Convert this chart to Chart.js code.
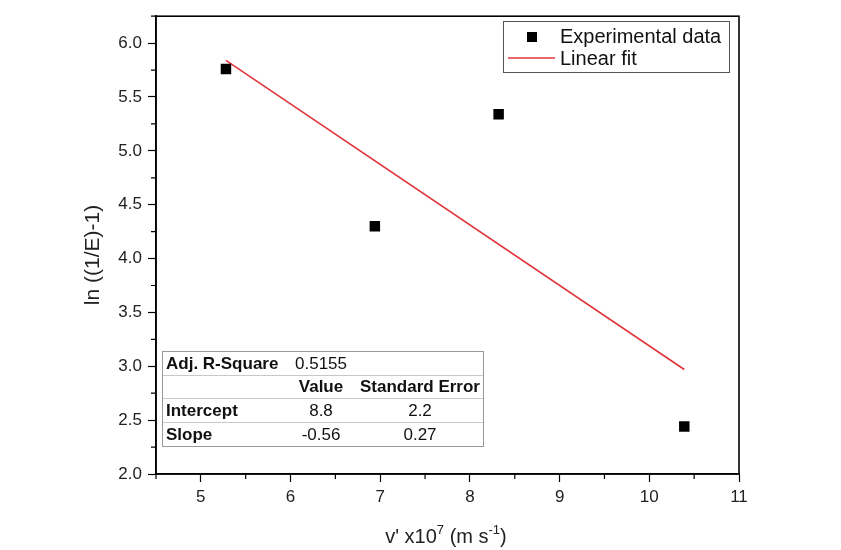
<!DOCTYPE html>
<html lang="en">
<head>
  <meta charset="UTF-8">
  <title>ln((1/E)-1) vs v'</title>
  <script src="https://cdn.jsdelivr.net/npm/chart.js"></script>
  <style>
    html, body { margin: 0; padding: 0; background: #fff; }
    #wrap { width: 841px; height: 550px; }
  </style>
</head>
<body>
  <div id="wrap"><canvas id="fitChart" width="841" height="550"></canvas></div>

  <script>
    // experimental points
    const velocity = [5.28, 6.94, 8.32, 10.39];
    const lnValues = [5.76, 4.30, 5.34, 2.44];

    // linear fit line endpoints (as drawn)
    const fitX = [5.28, 10.39];
    const fitY = [5.84, 2.97];

    const xMajorTicks = [5, 6, 7, 8, 9, 10, 11];
    const xMinorTicks = [4.5, 5.5, 6.5, 7.5, 8.5, 9.5, 10.5];
    const yMajorTicks = [2.0, 2.5, 3.0, 3.5, 4.0, 4.5, 5.0, 5.5, 6.0];
    const yMinorTicks = [2.25, 2.75, 3.25, 3.75, 4.25, 4.75, 5.25, 5.75, 6.25];

    const statsHeader = ['', 'Value', 'Standard Error'];
    const adjRSquare = '0.5155';
    const statsRows = [
      ['Intercept', '8.8', '2.2'],
      ['Slope', '-0.56', '0.27']
    ];

    const FONT = '"Liberation Sans", Arial, sans-serif';

    const framePlugin = {
      id: 'framePlugin',
      afterDraw(chart) {
        const ctx = chart.ctx;
        const a = chart.chartArea;
        const xs = chart.scales.x, ys = chart.scales.y;
        ctx.save();

        // minor ticks
        ctx.strokeStyle = '#000';
        ctx.lineWidth = 1.2;
        ctx.beginPath();
        xMinorTicks.forEach(v => {
          const px = xs.getPixelForValue(v);
          ctx.moveTo(px, a.bottom); ctx.lineTo(px, a.bottom + 5);
        });
        yMinorTicks.forEach(v => {
          const py = ys.getPixelForValue(v);
          ctx.moveTo(a.left, py); ctx.lineTo(a.left - 5, py);
        });
        ctx.stroke();

        // frame
        ctx.lineWidth = 1.6;
        ctx.strokeRect(a.left, a.top, a.right - a.left, a.bottom - a.top);

        // axis titles
        ctx.fillStyle = '#222';
        ctx.textBaseline = 'alphabetic';
        ctx.save();
        ctx.translate(99, 255);
        ctx.rotate(-Math.PI / 2);
        ctx.font = '21px ' + FONT;
        ctx.textAlign = 'center';
        ctx.fillText('ln ((1/E)-1)', 0, 0);
        ctx.restore();

        // x title with superscripts
        const parts = [
          ['v\' x10', false], ['7', true], [' (m s', false], ['-1', true], [')', false]
        ];
        const big = '20px ' + FONT, small = '13px ' + FONT;
        let total = 0;
        parts.forEach(p => { ctx.font = p[1] ? small : big; total += ctx.measureText(p[0]).width; });
        let cx = 446 - total / 2;
        const base = 543;
        ctx.textAlign = 'left';
        parts.forEach(p => {
          ctx.font = p[1] ? small : big;
          ctx.fillText(p[0], cx, p[1] ? base - 9 : base);
          cx += ctx.measureText(p[0]).width;
        });

        // legend
        ctx.strokeStyle = '#555';
        ctx.lineWidth = 1;
        ctx.strokeRect(503.5, 21.5, 226, 51);
        ctx.fillStyle = '#000';
        ctx.fillRect(527, 32, 10, 10);
        ctx.strokeStyle = '#e0353a';
        ctx.lineWidth = 1.6;
        ctx.beginPath(); ctx.moveTo(508, 58); ctx.lineTo(555, 58); ctx.stroke();
        ctx.fillStyle = '#111';
        ctx.font = '20px ' + FONT;
        ctx.textBaseline = 'middle';
        ctx.fillText('Experimental data', 560, 37);
        ctx.fillText('Linear fit', 560, 59);

        // statistics table
        const tx = 162, tw = 321, rowTops = [351, 375, 398, 422, 446];
        const colCenters = [null, 321, 420];
        ctx.fillStyle = '#fff';
        ctx.fillRect(tx, rowTops[0], tw, rowTops[4] - rowTops[0]);
        ctx.strokeStyle = '#c8c8c8';
        ctx.lineWidth = 1;
        ctx.beginPath();
        for (let i = 1; i < 4; i++) {
          ctx.moveTo(tx, rowTops[i] + 0.5); ctx.lineTo(tx + tw, rowTops[i] + 0.5);
        }
        ctx.stroke();
        ctx.strokeStyle = '#999';
        ctx.strokeRect(tx + 0.5, rowTops[0] + 0.5, tw, rowTops[4] - rowTops[0]);

        ctx.fillStyle = '#111';
        ctx.textBaseline = 'middle';
        const mid = i => (rowTops[i] + rowTops[i + 1]) / 2 + 1;
        ctx.textAlign = 'left';
        ctx.font = 'bold 17px ' + FONT;
        ctx.fillText('Adj. R-Square', 166, mid(0));
        ctx.font = '17px ' + FONT;
        ctx.fillText(adjRSquare, 295, mid(0));
        ctx.textAlign = 'center';
        ctx.font = 'bold 17px ' + FONT;
        statsHeader.forEach((h, c) => { if (h) ctx.fillText(h, colCenters[c], mid(1)); });
        statsRows.forEach((row, r) => {
          ctx.textAlign = 'left';
          ctx.font = 'bold 17px ' + FONT;
          ctx.fillText(row[0], 166, mid(r + 2));
          ctx.textAlign = 'center';
          ctx.font = '17px ' + FONT;
          ctx.fillText(row[1], colCenters[1], mid(r + 2));
          ctx.fillText(row[2], colCenters[2], mid(r + 2));
        });

        ctx.restore();
      }
    };

    new Chart(document.getElementById('fitChart'), {
      type: 'scatter',
      data: {
        datasets: [
          {
            label: 'Experimental data',
            data: velocity.map((v, i) => ({ x: v, y: lnValues[i] })),
            pointStyle: 'rect',
            pointRadius: 7.4,
            pointHoverRadius: 7.4,
            backgroundColor: '#000',
            borderColor: '#000',
            borderWidth: 0
          },
          {
            label: 'Linear fit',
            type: 'line',
            data: fitX.map((v, i) => ({ x: v, y: fitY[i] })),
            borderColor: '#e0353a',
            borderWidth: 1.6,
            pointRadius: 0,
            fill: false
          }
        ]
      },
      options: {
        responsive: false,
        animation: false,
        layout: { padding: { top: 13, right: 102, left: 0, bottom: 0 } },
        plugins: { legend: { display: false }, tooltip: { enabled: false } },
        scales: {
          x: {
            type: 'linear',
            min: 4.5,
            max: 11,
            afterBuildTicks: s => { s.ticks = xMajorTicks.map(v => ({ value: v })); },
            afterFit: s => { s.height = 76; },
            grid: { drawOnChartArea: false, tickLength: 8, tickColor: '#000', tickWidth: 1.2 },
            border: { display: true, color: '#000', width: 1.6 },
            ticks: { color: '#222', padding: 5, maxRotation: 0, font: { size: 17, family: FONT } }
          },
          y: {
            min: 2.0,
            max: 6.25,
            afterBuildTicks: s => { s.ticks = yMajorTicks.map(v => ({ value: v })); },
            afterFit: s => { s.width = 156; },
            grid: { drawOnChartArea: false, tickLength: 8, tickColor: '#000', tickWidth: 1.2 },
            border: { display: true, color: '#000', width: 1.6 },
            ticks: {
              color: '#222', padding: 6, font: { size: 17, family: FONT },
              callback: v => Number(v).toFixed(1)
            }
          }
        }
      },
      plugins: [framePlugin]
    });
  </script>
</body>
</html>
